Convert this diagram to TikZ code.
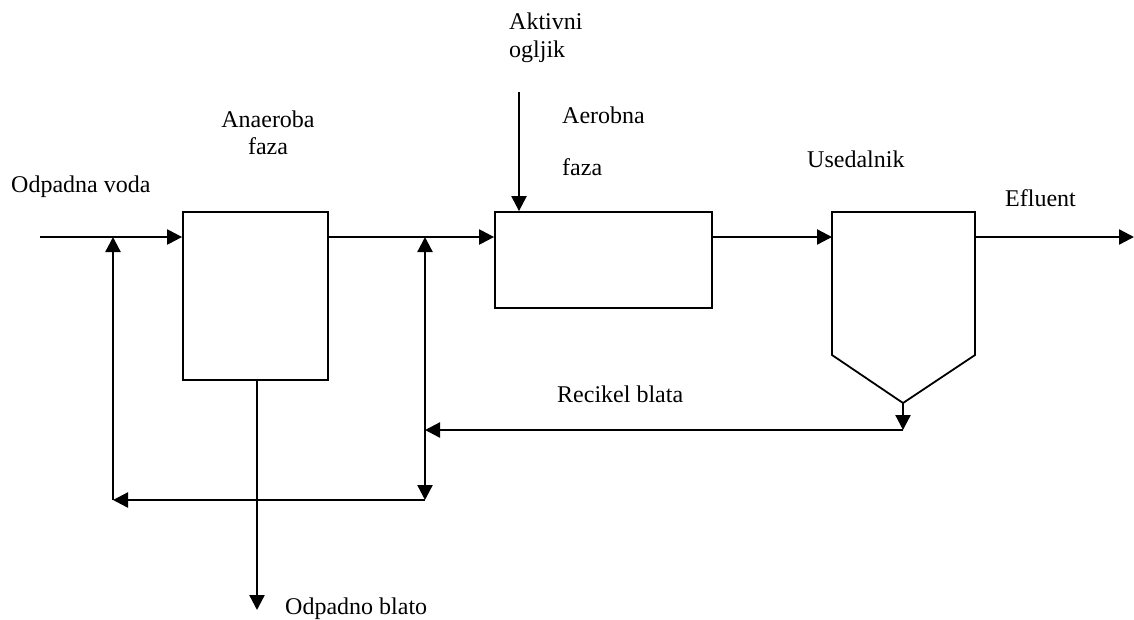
\documentclass[tikz,border=0pt]{standalone}
\usepackage{fontspec}
\setmainfont{Liberation Serif}
\usetikzlibrary{arrows.meta}
\begin{document}
\begin{tikzpicture}[x=1pt,y=-1pt,
  line/.style={line width=2.3pt},
  arr/.style={line,-{Triangle[length=15pt,width=15pt]}},
  unit/.style={draw,line width=1.8pt,inner sep=0pt},
  lbl/.style={font=\fontsize{24}{28}\selectfont,anchor=base west,inner sep=0pt},
  clbl/.style={font=\fontsize{24}{28}\selectfont,anchor=base,inner sep=0pt}]
\useasboundingbox (0,0) rectangle (1134,619);
% units
\node[unit,minimum width=145pt,minimum height=168pt] (an) at (255.5,296) {};
\node[unit,minimum width=217pt,minimum height=96pt] (ae) at (603.5,260) {};
\coordinate (s1) at (832,212);
\coordinate (s2) at (975,212);
\coordinate (s3) at (975,355);
\coordinate (s4) at (903,403);
\coordinate (s5) at (832,355);
\draw[line width=1.8pt,line join=miter] (s1) -- (s2) -- (s3) -- (s4) -- (s5) -- cycle;
% junctions
\coordinate (in) at (40,237);
\coordinate (j1) at (113,237);
\coordinate (j1b) at (113,500);
\coordinate (j2) at (425,237);
\coordinate (j2b) at (425,500);
\coordinate (r) at (425,430);
\coordinate (rs) at (903,430);
\coordinate (out) at (1134,237);
\coordinate (ws) at (257,610);
\coordinate (ak) at (519,92);
% connectors
\draw[arr] (in) -- (an.west |- in);
\draw[arr] (an.east |- in) -- (ae.west |- in);
\draw[arr] (ae.east |- in) -- (s1 |- in);
\draw[arr] (s2 |- in) -- (out);
\draw[arr] (j1b) -- (j1);
\draw[line,{Triangle[length=15pt,width=15pt]}-{Triangle[length=15pt,width=15pt]}] (j2) -- (j2b);
\draw[arr] (j2b) -- (j1b);
\draw[arr] (rs) -- (r);
\draw[arr] (s4) -- (rs);
\draw[arr] (ws |- an.south) -- (ws);
\draw[arr] (ak) -- (ak |- ae.north);
% labels
\node[lbl] (l1) at (11,192) {Odpadna voda};
\node[clbl] (l2) at (268,127) {Anaeroba};
\node[clbl] (l3) at (268,154) {faza};
\node[lbl] (l4) at (509,29) {Aktivni};
\node[lbl] (l5) at (509,57) {ogljik};
\node[lbl] (l6) at (562,123) {Aerobna};
\node[lbl] (l7) at (562,175) {faza};
\node[lbl] (l8) at (807,167) {Usedalnik};
\node[lbl] (l9) at (1005,206) {Efluent};
\node[lbl] (l10) at (557,402) {Recikel blata};
\node[lbl] (l11) at (285,614) {Odpadno blato};
\end{tikzpicture}
\end{document}
